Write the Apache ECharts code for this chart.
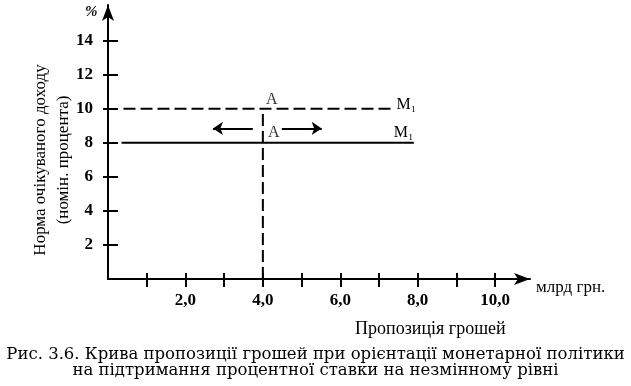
<!DOCTYPE html>
<html><head><meta charset="utf-8">
<script src="https://cdn.jsdelivr.net/npm/echarts@6/dist/echarts.min.js"></script>
<style>html,body{margin:0;padding:0;background:#fff}#c{width:631px;height:386px}</style>
</head><body><div id="c"></div>
<script>
// ---- data ----
const yTickValues = [2, 4, 6, 8, 10, 12, 14];
const xTickValues = [1, 2, 3, 4, 5, 6, 7, 8, 9, 10];
const xLabelValues = [2, 4, 6, 8, 10];
const oldRateLine = [[0.4, 10], [7.4, 10]];   // M1 at 10%
const newRateLine = [[0.35, 8], [7.9, 8]];    // M1 at 8%
const supplyLine = [[4, 0], [4, 10]];         // vertical at 4,0
const arrowLeft = [[3.74, 8.85], [2.71, 8.85]];
const arrowRight = [[4.49, 8.85], [5.52, 8.85]];
const pointA1 = [4, 10];
const pointA2 = [4, 8];
const captionLines = [
  'Рис. 3.6. Крива пропозиції грошей при орієнтації монетарної політики',
  'на підтримання процентної ставки на незмінному рівні'
];

const serif = '"Liberation Serif", "DejaVu Serif", serif';
const capFont = '"DejaVu Serif", "Liberation Serif", serif';
const chart = echarts.init(document.getElementById('c'), null, {renderer: 'canvas'});
const fmtX = v => v.toFixed(1).replace('.', ',');
const capStyle = {fontFamily: capFont, fontSize: 16.5, fontWeight: 'normal', color: '#000'};

chart.setOption({
  animation: false,
  title: [
    {text: '%', left: 80, top: 0, textStyle: {fontFamily: serif, fontSize: 15, fontWeight: 'bold', fontStyle: 'italic', color: '#000'}},
    {text: 'Пропозиція грошей', left: 350, top: 315, textStyle: {fontFamily: serif, fontSize: 18, fontWeight: 'normal', color: '#000'}},
    {text: captionLines[0], left: 'center', top: 341, textStyle: capStyle},
    {text: captionLines[1], left: 'center', top: 357, textStyle: capStyle}
  ],
  grid: {left: 108, right: 101, top: 5, bottom: 107, containLabel: false},
  xAxis: [
    {type: 'value', min: 0, max: 10.9, position: 'bottom',
     name: 'млрд грн.', nameLocation: 'end', nameGap: 6, nameMoveOverlap: false,
     nameTextStyle: {fontFamily: serif, fontSize: 17, color: '#000', verticalAlign: 'top', padding: [0, 0, 0, 0]},
     axisLine: {show: true, onZero: false, lineStyle: {color: '#000', width: 2}, symbol: ['none', 'arrow'], symbolSize: [9, 16]},
     axisTick: {show: true, inside: false, length: 8, customValues: xTickValues, lineStyle: {color: '#000', width: 2}},
     axisLabel: {show: true, customValues: xLabelValues, formatter: fmtX, margin: 13, fontFamily: serif, fontSize: 17, fontWeight: 'bold', color: '#000'},
     splitLine: {show: false}},
    {type: 'value', min: 0, max: 10.9, position: 'bottom',
     axisLine: {show: false, onZero: false},
     axisTick: {show: true, inside: true, length: 6, customValues: xTickValues, lineStyle: {color: '#000', width: 2}},
     axisLabel: {show: false}, splitLine: {show: false}}
  ],
  yAxis: [
    {type: 'value', min: 0, max: 16.1, position: 'left',
     name: 'Норма очікуваного доходу\n(номін. процента)', nameLocation: 'middle', nameRotate: 90, nameGap: 33, nameMoveOverlap: false,
     nameTextStyle: {fontFamily: serif, fontSize: 17, color: '#000', lineHeight: 23, padding: [0, 36, 0, 0]},
     axisLine: {show: true, onZero: false, lineStyle: {color: '#000', width: 2}, symbol: ['none', 'arrow'], symbolSize: [9, 16]},
     axisTick: {show: true, inside: false, length: 5, customValues: yTickValues, lineStyle: {color: '#000', width: 2}},
     axisLabel: {show: true, customValues: yTickValues, margin: 15, fontFamily: serif, fontSize: 17, fontWeight: 'bold', color: '#000'},
     splitLine: {show: false}},
    {type: 'value', min: 0, max: 16.1, position: 'left',
     axisLine: {show: false, onZero: false},
     axisTick: {show: true, inside: true, length: 10, customValues: yTickValues, lineStyle: {color: '#000', width: 2}},
     axisLabel: {show: false}, splitLine: {show: false}}
  ],
  series: [
    {type: 'line', xAxisIndex: 0, yAxisIndex: 0, data: oldRateLine, symbol: 'none',
     lineStyle: {color: '#000', width: 2, type: [12, 5]},
     endLabel: {show: true, formatter: 'M₁', fontFamily: serif, fontSize: 16, color: '#000', distance: 2, offset: [0, -4]}},
    {type: 'line', xAxisIndex: 0, yAxisIndex: 0, data: newRateLine, symbol: 'none',
     lineStyle: {color: '#000', width: 2},
     endLabel: {show: true, formatter: 'M₁', fontFamily: serif, fontSize: 16, color: '#000', distance: 0, offset: [-20, -10]}},
    {type: 'line', xAxisIndex: 0, yAxisIndex: 0, data: supplyLine, symbol: 'none',
     lineStyle: {color: '#000', width: 2, type: [12, 5]}},
    {type: 'scatter', xAxisIndex: 0, yAxisIndex: 0, symbolSize: 0,
     data: [
       {value: pointA1, label: {offset: [9, 0], distance: 1}},
       {value: pointA2, label: {offset: [11, 0], distance: 2}}
     ],
     label: {show: true, formatter: 'A', position: 'top', fontFamily: serif, fontSize: 16, color: '#000'}},
    {type: 'lines', coordinateSystem: 'cartesian2d', xAxisIndex: 0, yAxisIndex: 0,
     symbol: ['none', 'arrow'], symbolSize: 10,
     lineStyle: {color: '#000', width: 2, opacity: 1},
     data: [{coords: arrowLeft}, {coords: arrowRight}]}
  ]
});
</script></body></html>
